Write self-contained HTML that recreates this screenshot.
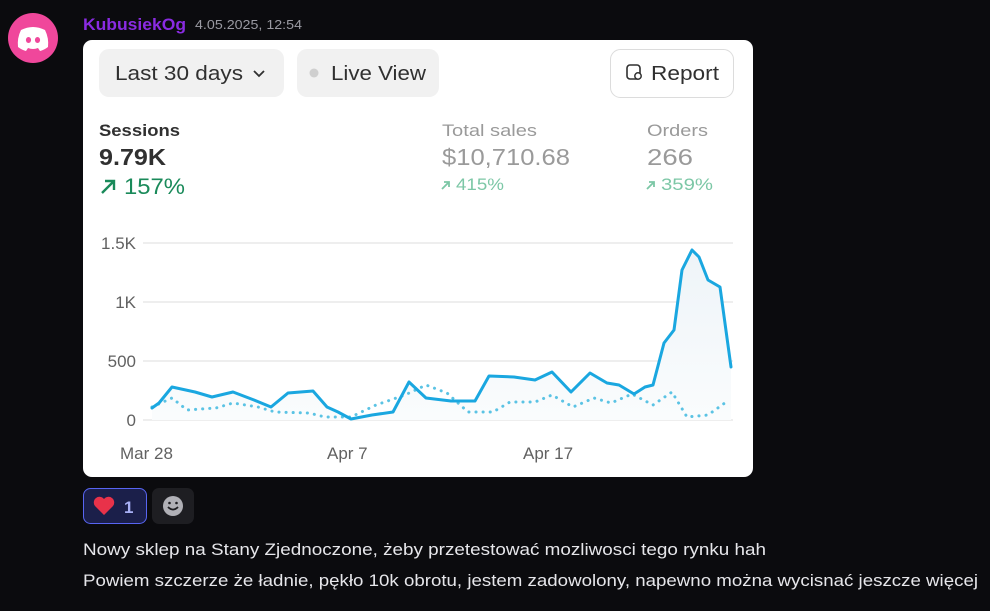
<!DOCTYPE html>
<html><head><meta charset="utf-8"><style>
body{margin:0;width:990px;height:611px;background:#0b0b0e;overflow:hidden;font-family:"Liberation Sans",sans-serif;position:relative}
.a{position:absolute;white-space:nowrap}
</style></head><body>
<svg width="990" height="611" style="position:absolute;left:0;top:0" font-family="Liberation Sans, sans-serif">
<!-- avatar -->
<circle cx="33" cy="38" r="25" fill="#f0479b"/>
<path d="M21 30 q12 -6 24 0 q4 8 3 17 q-4 3 -8 4 l-2 -3 q-5 2 -10 0 l-2 3 q-4 -1 -8 -4 q-1 -9 3 -17z" fill="#fff"/>
<ellipse cx="28.5" cy="40" rx="2.6" ry="3" fill="#f0479b"/><ellipse cx="37.5" cy="40" rx="2.6" ry="3" fill="#f0479b"/>
<text x="83" y="30" font-size="17" font-weight="bold" fill="#8a2be2" textLength="103" lengthAdjust="spacingAndGlyphs">KubusiekOg</text>
<text x="195" y="29" font-size="12.5" fill="#9a9aa2" textLength="107" lengthAdjust="spacingAndGlyphs">4.05.2025, 12:54</text>
<!-- card -->
<rect x="83" y="40" width="670" height="437" rx="9" fill="#fff"/>
<rect x="99" y="49" width="185" height="48" rx="10" fill="#f1f1f1"/>
<text x="115" y="80" font-size="20" fill="#303030" textLength="128" lengthAdjust="spacingAndGlyphs">Last 30 days</text>
<path d="M254 71 l5 5 l5 -5" stroke="#303030" stroke-width="1.8" fill="none"/>
<rect x="297" y="49" width="142" height="48" rx="10" fill="#f1f1f1"/>
<circle cx="314" cy="73" r="4.5" fill="#cfcfcf"/>
<text x="331" y="80" font-size="20" fill="#303030" textLength="95" lengthAdjust="spacingAndGlyphs">Live View</text>
<rect x="610.5" y="49.5" width="123" height="48" rx="10" fill="#fff" stroke="#dcdcdc"/>
<rect x="627" y="65" width="13" height="14" rx="3" fill="none" stroke="#303030" stroke-width="1.6"/>
<circle cx="638" cy="76" r="3.2" fill="#fff" stroke="#303030" stroke-width="1.5"/>
<text x="651" y="80" font-size="20" fill="#303030" textLength="68" lengthAdjust="spacingAndGlyphs">Report</text>
<text x="99" y="136" font-size="17" font-weight="bold" fill="#303030" textLength="81" lengthAdjust="spacingAndGlyphs">Sessions</text>
<text x="99" y="165" font-size="23" font-weight="bold" fill="#303030" textLength="67" lengthAdjust="spacingAndGlyphs">9.79K</text>
<path d="M102 193 l12 -12 M105 181 h9 v9" stroke="#1a8a5a" stroke-width="2.4" fill="none"/>
<text x="124" y="194" font-size="22" fill="#1a8a5a" textLength="61" lengthAdjust="spacingAndGlyphs">157%</text>
<text x="442" y="136" font-size="17" fill="#9a9a9a" textLength="95" lengthAdjust="spacingAndGlyphs">Total sales</text>
<text x="442" y="165" font-size="23" fill="#9a9a9a" textLength="128" lengthAdjust="spacingAndGlyphs">$10,710.68</text>
<path d="M442 189 l7 -7 M444 182 h5 v5" stroke="#7cc7a6" stroke-width="1.8" fill="none"/>
<text x="456" y="190" font-size="17" fill="#7cc7a6" textLength="48" lengthAdjust="spacingAndGlyphs">415%</text>
<text x="647" y="136" font-size="17" fill="#9a9a9a" textLength="61" lengthAdjust="spacingAndGlyphs">Orders</text>
<text x="647" y="165" font-size="23" fill="#9a9a9a" textLength="46" lengthAdjust="spacingAndGlyphs">266</text>
<path d="M647 189 l7 -7 M649 182 h5 v5" stroke="#7cc7a6" stroke-width="1.8" fill="none"/>
<text x="661" y="190" font-size="17" fill="#7cc7a6" textLength="52" lengthAdjust="spacingAndGlyphs">359%</text>
<!-- grid -->
<g stroke="#e8e8e8" stroke-width="1.5">
<line x1="143" y1="243" x2="733" y2="243"/><line x1="143" y1="302" x2="733" y2="302"/><line x1="143" y1="361" x2="733" y2="361"/><line x1="143" y1="420" x2="733" y2="420"/></g>
<g font-size="17" fill="#616161" text-anchor="end">
<text x="136" y="249">1.5K</text><text x="136" y="308">1K</text><text x="136" y="367">500</text><text x="136" y="426">0</text></g>
<g font-size="17" fill="#616161">
<text x="120" y="459">Mar 28</text><text x="327" y="459">Apr 7</text><text x="523" y="459">Apr 17</text></g>
<defs><linearGradient id="g" x1="0" y1="0" x2="0" y2="1"><stop offset="0" stop-color="#eef4f8"/><stop offset="1" stop-color="#fafcfd"/></linearGradient></defs>
<polygon fill="url(#g)" points="152,420 152,408 159,403 172,387 195,392 212,397 233,392 254,400 271,407 288,393 313,391 327,407 338,412 351,419 372,415 393,412 409,382 426,398 451,401 475,401 489,376 514,377 535,380 552,372 571,392 590,373 607,383 619,385 634,394 645,387 653,385 664,343 674,330 682,270 692,250 699,257 708,280 720,287 731,367 731,420"/>
<polyline fill="none" stroke="#5bc3e4" stroke-width="3" stroke-dasharray="0.1 7" stroke-linecap="round" points="152,407 172,398 187,410 216,408 233,403 258,407 275,412 309,413 325,417 351,417 376,405 405,395 426,385 447,393 468,412 493,412 510,402 535,402 552,395 573,407 594,398 611,403 632,394 653,405 672,392 687,417 708,415 729,400"/>
<polyline fill="none" stroke="#1aa7e0" stroke-width="3" stroke-linejoin="round" stroke-linecap="round" points="152,408 159,403 172,387 195,392 212,397 233,392 254,400 271,407 288,393 313,391 327,407 338,412 351,419 372,415 393,412 409,382 426,398 451,401 475,401 489,376 514,377 535,380 552,372 571,392 590,373 607,383 619,385 634,394 645,387 653,385 664,343 674,330 682,270 692,250 699,257 708,280 720,287 731,367"/>
<!-- reactions -->
<rect x="83.5" y="488.5" width="63" height="35" rx="7" fill="#1b1f4a" stroke="#5865f2"/>
<path d="M104 515 l-9 -9 a5 5 0 0 1 9 -7 a5 5 0 0 1 9 7z" fill="#e8324a"/>
<text x="124" y="513" font-size="17" font-weight="bold" fill="#a8b0f5">1</text>
<rect x="152" y="488" width="42" height="36" rx="7" fill="#1e1e22"/>
<circle cx="173" cy="506" r="10" fill="#b0b0b6"/>
<path d="M168 507 q5 5 10 0" stroke="#1e1e22" stroke-width="1.8" fill="none"/>
<circle cx="169.5" cy="503" r="1.3" fill="#1e1e22"/><circle cx="176.5" cy="503" r="1.3" fill="#1e1e22"/>
<text x="83" y="555" font-size="17" fill="#e6e6ea" textLength="683" lengthAdjust="spacingAndGlyphs">Nowy sklep na Stany Zjednoczone, żeby przetestować mozliwosci tego rynku hah</text>
<text x="83" y="586" font-size="17" fill="#e6e6ea" textLength="895" lengthAdjust="spacingAndGlyphs">Powiem szczerze że ładnie, pękło 10k obrotu, jestem zadowolony, napewno można wycisnać jeszcze więcej</text>
</svg>
</body></html>
